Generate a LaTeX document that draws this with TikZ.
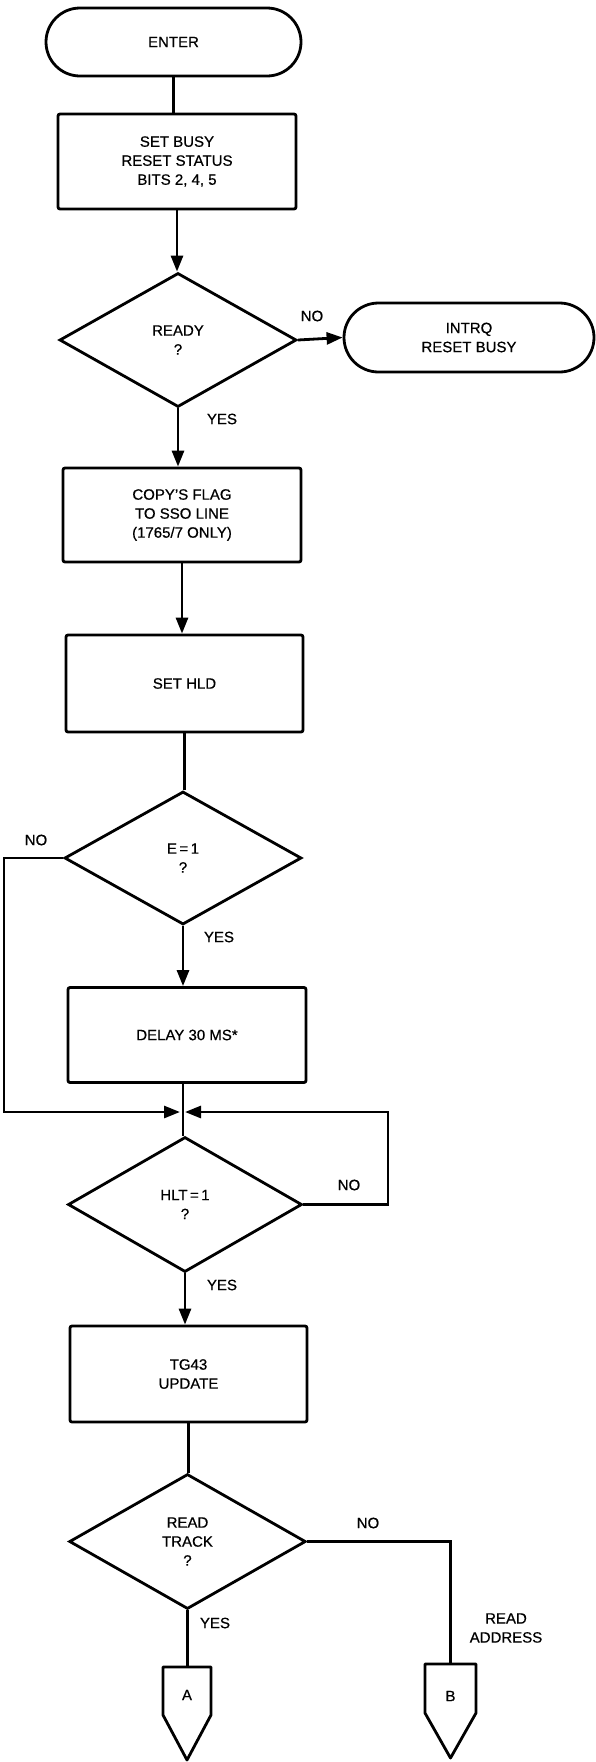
\documentclass[tikz,border=0pt]{standalone}
\usepackage{fontspec}
\setmainfont{Liberation Sans}[FakeBold=0.6]
\usetikzlibrary{shapes.geometric,arrows.meta}
\begin{document}
\begin{tikzpicture}[x=1pt,y=-1pt,
  every node/.style={font=\fontsize{15}{19}\selectfont, align=center},
  ln/.style={line width=2.8pt},
  arr/.style={ln, -{Triangle[length=16pt,width=12pt]}},
  stepbox/.style={draw, ln, rectangle, rounded corners=2pt, inner sep=0pt},
  term/.style={draw, ln, rectangle, rounded corners=34pt, inner sep=0pt},
  dec/.style={draw, ln, diamond, inner sep=0pt},
  lbl/.style={inner sep=0pt}
]
\useasboundingbox (0,0) rectangle (596,1762);

% nodes
\node[term, minimum width=255pt, minimum height=68pt] (enter) at (173.5,42) {ENTER};
\node[stepbox, minimum width=238pt, minimum height=95pt] (setbusy) at (177,161.5) {SET BUSY\\RESET STATUS\\BITS 2, 4, 5};
\node[dec, minimum width=237pt, minimum height=134pt] (ready) at (178,340) {READY\\?};
\node[term, minimum width=250pt, minimum height=69pt, rounded corners=34.5pt] (intrq) at (469,337.5) {INTRQ\\RESET BUSY};
\node[stepbox, minimum width=238pt, minimum height=94pt] (copy) at (182,515) {COPY'S FLAG\\TO SSO LINE\\(1765/7 ONLY)};
\node[stepbox, minimum width=237pt, minimum height=97pt] (sethld) at (184.5,683.5) {SET HLD};
\node[dec, minimum width=237pt, minimum height=133pt] (e1) at (183,858) {E\,=\,1\\?};
\node[stepbox, minimum width=238pt, minimum height=95pt] (delay) at (187,1035) {DELAY 30 MS*};
\coordinate (j) at (183,1112);
\coordinate (lx) at (4,1112);
\coordinate (rx) at (388,1112);
\node[dec, minimum width=234pt, minimum height=135pt] (hlt) at (185,1204.5) {HLT\,=\,1\\?};
\node[stepbox, minimum width=237pt, minimum height=96pt] (tg) at (188.5,1374) {TG43\\UPDATE};
\node[dec, minimum width=236.5pt, minimum height=135pt] (rt) at (187.5,1541.5) {READ\\TRACK\\?};
\coordinate (Atop) at (187,1667);
\coordinate (Btop) at (450.5,1664);
\node[lbl] (Alab) at (187,1695) {A};
\node[lbl] (Blab) at (450.5,1696) {B};

% labels
\node[lbl] (no1) at (312,316) {NO};
\node[lbl] (yes1) at (222,419) {YES};
\node[lbl] (no2) at (36,840) {NO};
\node[lbl] (yes2) at (219,937) {YES};
\node[lbl] (no3) at (349,1185) {NO};
\node[lbl] (yes3) at (222,1285) {YES};
\node[lbl] (no4) at (368,1523) {NO};
\node[lbl] (yes4) at (215,1623) {YES};
\node[lbl] (radr) at (506,1628) {READ\\ADDRESS};

% connectors
\draw[ln] (enter.south) -- (enter.south |- setbusy.north);
\draw[arr] (setbusy.south) -- (setbusy.south |- ready.north);
\draw[arr] (ready.east) -- (intrq.west);
\draw[arr] (ready.south) -- (ready.south |- copy.north);
\draw[arr] (copy.south) -- (copy.south |- sethld.north);
\draw[ln] (sethld.south) -- (sethld.south |- e1.north);
\draw[arr] (e1.south) -- (e1.south |- delay.north);
\draw[ln] (j |- delay.south) -- (j);
\draw[ln] (j) -- (j |- hlt.north);
\draw[arr, shorten >=3pt] (e1.west) -| (lx) -- (j);
\draw[arr, shorten >=2pt] (hlt.east) -| (rx) -- (j);
\draw[arr] (hlt.south) -- (hlt.south |- tg.north);
\draw[ln] (tg.south) -- (tg.south |- rt.north);
\draw[ln] (rt.south) -- (rt.south |- Atop);
\draw[ln] (rt.east) -| (Btop);

% off-page connectors
\draw[ln, line join=round] (Atop) -- ++(24,0) -- ++(0,48) -- ++(-24,45) -- ++(-24,-45) -- ++(0,-48) -- cycle;
\draw[ln, line join=round] (Btop) -- ++(25.5,0) -- ++(0,49) -- ++(-25.5,45) -- ++(-25.5,-45) -- ++(0,-49) -- cycle;
\end{tikzpicture}
\end{document}
